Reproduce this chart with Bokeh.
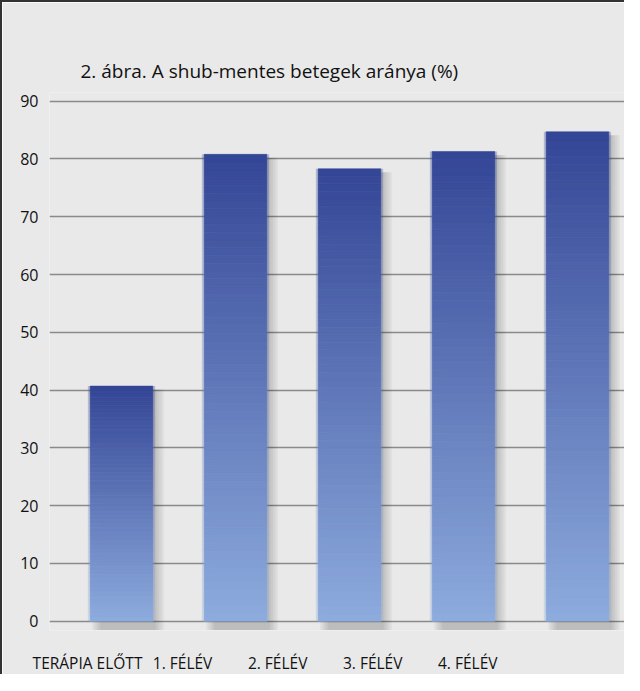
import numpy as np
from bokeh.plotting import figure
from bokeh.models import Range1d, LinearAxis, FixedTicker, ColumnDataSource
from bokeh.embed import file_html
from bokeh.resources import INLINE

# ---- data ----
categories = ["TERÁPIA ELŐTT", "1. FÉLÉV", "2. FÉLÉV", "3. FÉLÉV", "4. FÉLÉV"]
values = [40.7, 80.8, 78.3, 81.3, 84.7]
y_ticks = [0, 10, 20, 30, 40, 50, 60, 70, 80, 90]
title_text = "2. ábra. A shub-mentes betegek aránya (%)"

FONT = "Open Sans"
BG = "#e9e9e9"
BAR_W = 0.56
TOP_RGB = np.array([52, 70, 150])
BOT_RGB = np.array([142, 172, 222])
N_SEG = 60

p = figure(width=622, height=672, output_backend="svg", toolbar_location=None,
           x_range=Range1d(-0.6316, 4.43), y_range=Range1d(-1.6, 91.5),
           x_axis_location=None,
           min_border_left=47, min_border_right=0, min_border_top=90, min_border_bottom=37,
           background_fill_color=BG, border_fill_color=BG, outline_line_color=None)
p.styles = {"border-left": "2px solid #333333", "border-top": "2px solid #333333",
            "box-sizing": "content-box"}

p.extra_x_ranges = {"lab": Range1d(-0.4, 5.67)}

xs = list(range(len(categories)))

# shadows
sh = dict(x=[], top=[], bottom=[])
for i, v in zip(xs, values):
    for dx in (0.02, 0.035, 0.05, 0.065, 0.08, 0.095):
        sh["x"].append(i + dx)
        sh["top"].append(v - 0.6)
        sh["bottom"].append(-1.5)
p.vbar(x="x", top="top", bottom="bottom", width=BAR_W, source=ColumnDataSource(sh),
       fill_color="#000000", fill_alpha=0.03, line_color=None)

# gradient bars
seg = dict(x=[], top=[], bottom=[], color=[])
for i, v in zip(xs, values):
    for k in range(N_SEG):
        t = (k + 0.5) / N_SEG
        rgb = (BOT_RGB * (1 - t) + TOP_RGB * t).astype(int)
        seg["x"].append(i)
        seg["bottom"].append(v * k / N_SEG)
        seg["top"].append(v * (k + 1) / N_SEG)
        seg["color"].append("#%02x%02x%02x" % tuple(rgb))
src = ColumnDataSource(seg)
p.vbar(x="x", top="top", bottom="bottom", width=BAR_W + 0.03, source=src,
       fill_color="color", fill_alpha=0.3, line_color=None)
p.vbar(x="x", top="top", bottom="bottom", width=BAR_W - 0.01, source=src,
       fill_color="color", fill_alpha=1.0, line_color="color", line_alpha=1.0, line_width=0.5)

# axes
p.xgrid.visible = False
p.yaxis.ticker = FixedTicker(ticks=y_ticks)
p.yaxis.axis_line_color = None
p.yaxis.major_tick_line_color = None
p.yaxis.minor_tick_line_color = None
p.yaxis.major_label_text_font = FONT
p.yaxis.major_label_text_font_size = "16px"
p.yaxis.major_label_text_color = "#111111"
p.yaxis.major_label_standoff = 5
p.ygrid.grid_line_color = "#8a8a8a"
p.ygrid.grid_line_width = 1.5

xa = LinearAxis(x_range_name="lab", ticker=FixedTicker(ticks=xs),
                major_label_overrides={i: c for i, c in zip(xs, categories)})
xa.axis_line_color = None
xa.major_tick_line_color = None
xa.minor_tick_line_color = None
xa.major_label_text_font = FONT
xa.major_label_text_font_size = "15.5px"
xa.major_label_text_color = "#111111"
xa.major_label_standoff = 15
p.add_layout(xa, "below")

p.title.text = title_text
p.title.text_font = FONT
p.title.text_font_size = "19px"
p.title.text_font_style = "normal"
p.title.text_color = "#111111"
p.title.align = "left"
p.title.offset = 31
p.title.standoff = 18

open("out.html", "w").write(file_html(p, INLINE))
